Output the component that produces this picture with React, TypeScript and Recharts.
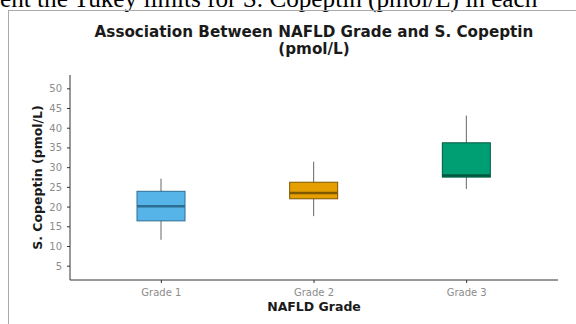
import React from 'react';
import { ComposedChart, Bar, XAxis, YAxis } from 'recharts';

// Tukey box statistics per NAFLD grade (pmol/L)
const grades = ['Grade 1', 'Grade 2', 'Grade 3'];
const lowerWhisker = [11.7, 17.7, 24.6];
const lowerQuartile = [16.5, 22.1, 27.6];
const medians = [20.2, 23.6, 28.0];
const upperQuartile = [24.0, 26.3, 36.3];
const upperWhisker = [27.2, 31.5, 43.2];
const yTicks = [5, 10, 15, 20, 25, 30, 35, 40, 45, 50];

const boxFills = ['#56B4E9', '#E69F00', '#009E73'];
const boxStrokes = ['#2c6d94', '#7f5800', '#00583f'];

const data = grades.map((grade, i) => ({
  grade,
  min: lowerWhisker[i],
  q1: lowerQuartile[i],
  median: medians[i],
  q3: upperQuartile[i],
  max: upperWhisker[i],
  fill: boxFills[i],
  stroke: boxStrokes[i],
}));

// the bar spans min..max, everything else is placed inside it proportionally
function BoxShape(props: any) {
  const { x, y, width, height, payload } = props;
  const top = Math.min(y, y + height);
  const bottom = Math.max(y, y + height);
  const span = payload.max - payload.min;
  const toY = (v: number) => bottom - ((v - payload.min) / span) * (bottom - top);
  const cx = x + width / 2;
  const yq1 = toY(payload.q1);
  const yq3 = toY(payload.q3);
  const ymed = toY(payload.median);
  return (
    <g>
      <line x1={cx} x2={cx} y1={top} y2={bottom} stroke="#666" strokeWidth={1} />
      <rect
        x={x}
        y={yq3}
        width={width}
        height={yq1 - yq3}
        fill={payload.fill}
        stroke={payload.stroke}
        strokeWidth={1}
      />
      <line x1={x} x2={x + width} y1={ymed} y2={ymed} stroke={payload.stroke} strokeWidth={2.5} />
    </g>
  );
}

const tickStyle = { fill: '#8c8c8c', fontSize: 10, fontFamily: 'DejaVu Sans' };
const bold = { fontFamily: 'DejaVu Sans', fontWeight: 700, fill: '#1a1a1a' };

export default function App() {
  return (
    <div
      style={{
        position: 'absolute',
        left: 0,
        top: 0,
        width: 576,
        height: 324,
        background: '#fff',
        overflow: 'hidden',
      }}
    >
      <div style={{ position: 'absolute', left: 0, top: 0 }}>
        <ComposedChart
          width={576}
          height={324}
          data={data}
          margin={{ top: 75, right: 18, bottom: 0, left: 0 }}
        >
          <XAxis
            dataKey="grade"
            type="category"
            padding={{ left: 15, right: 15 }}
            height={44}
            axisLine={{ stroke: '#333' }}
            tickLine={{ stroke: '#333' }}
            tickSize={3}
            tick={{ ...tickStyle, dy: 4 }}
          />
          <YAxis
            type="number"
            domain={[1.5, 53.5]}
            ticks={yTicks}
            width={70}
            axisLine={{ stroke: '#333' }}
            tickLine={{ stroke: '#333' }}
            tickSize={3}
            tick={{ ...tickStyle, dx: -3 }}
          />
          <Bar
            dataKey={(d: any) => [d.min, d.max]}
            barSize={48}
            shape={<BoxShape />}
            isAnimationActive={false}
          />
        </ComposedChart>
      </div>
      <svg
        width={576}
        height={324}
        style={{ position: 'absolute', left: 0, top: 0, pointerEvents: 'none' }}
      >
        <text x={0} y={7} fontFamily="Liberation Serif" fontSize={25.2} fill="#000">
          ent the Tukey limits for S. Copeptin (pmol/L) in each
        </text>
        <line x1={8.5} x2={8.5} y1={10} y2={324} stroke="#aaa" />
        <line x1={8} x2={576} y1={10.5} y2={10.5} stroke="#aaa" />
        <text x={314} y={37} textAnchor="middle" fontSize={15.2} {...bold}>
          Association Between NAFLD Grade and S. Copeptin
        </text>
        <text x={314} y={54} textAnchor="middle" fontSize={15.2} {...bold}>
          (pmol/L)
        </text>
        <text
          transform="translate(42,177.5) rotate(-90)"
          textAnchor="middle"
          fontSize={12.5}
          {...bold}
        >
          S. Copeptin (pmol/L)
        </text>
        <text x={314} y={311} textAnchor="middle" fontSize={12.5} {...bold}>
          NAFLD Grade
        </text>
      </svg>
    </div>
  );
}
